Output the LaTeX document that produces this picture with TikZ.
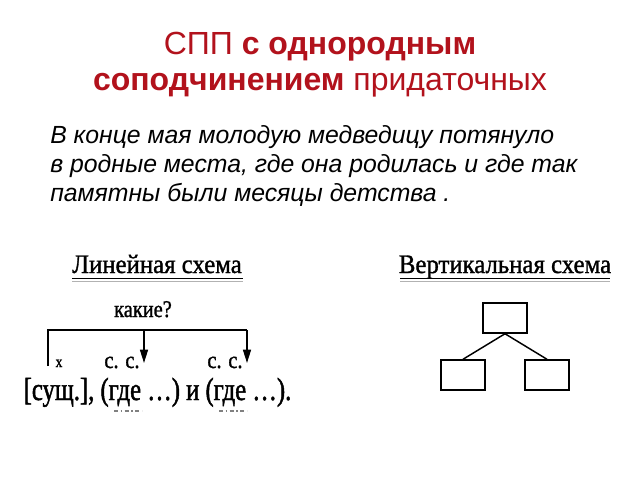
\documentclass[tikz,border=0pt]{standalone}
\usepackage{fontspec}
\setmainfont{Liberation Sans}
\newfontfamily\schemefont[FakeStretch=0.93, FakeBold=1.2]{Liberation Serif}
\newfontfamily\labelfont[FakeStretch=0.85, FakeBold=1.2]{Liberation Serif}
\newfontfamily\formulafont[FakeStretch=0.77, FakeBold=1.4]{Liberation Serif}
\usetikzlibrary{arrows.meta}

\definecolor{titlered}{RGB}{178,18,28}

\tikzset{
  schemetitle/.style={font=\schemefont\fontsize{20}{22}\selectfont, inner sep=0pt, anchor=base},
  schemetext/.style={font=\labelfont\fontsize{18}{20}\selectfont, inner sep=0pt, anchor=base},
  box/.style={draw, line width=1.1pt, minimum width=33pt, minimum height=22.5pt, inner sep=0pt},
  arr/.style={line width=1.1pt, -{Triangle[length=10pt,width=6pt]}}
}

\begin{document}
\begin{tikzpicture}[x=0.75pt,y=-0.75pt]

% Canvas
\fill[white] (0,0) rectangle (640,480);
\useasboundingbox (0,0) rectangle (640,480);

% Title
\foreach \n/\y/\txt in {1/54/{СПП \textbf{с однородным}},
                        2/90/{\textbf{соподчинением} придаточных}} {
  \node[anchor=base, inner sep=0pt, text=titlered, font=\fontsize{24}{26}\selectfont] (title\n) at (320,\y) {\txt};
}

% Example sentence
\foreach \y/\txt in {143/{В конце мая молодую медведицу потянуло},
                     172/{в родные места, где она родилась и где так},
                     201/{памятны были месяцы детства .}} {
  \node[anchor=base west, inner sep=0pt, font=\itshape\fontsize{18.6}{22}\selectfont] (line\y) at (50,\y) {\txt};
}

% Linear scheme
\node[schemetitle] (lintitle) at (157,273) {Линейная схема};
\draw[line width=1.2pt] (72,278.5) -- (243,278.5);
\draw[gray!60, line width=0.8pt] (72,281.5) -- (243,281.5);

\node[schemetext] (which) at (143,317) {какие?};

\coordinate (foot) at (48,366);
\coordinate (brL) at (48,330);
\coordinate (top1) at (144,330);
\coordinate (brR) at (247,330);
\coordinate (tip1) at (144,363);
\coordinate (tip2) at (247,363);

\draw[line width=1.1pt] (foot) -- (brL) -- (brR);
\draw[arr] (top1) -- (tip1);
\draw[arr] (brR) -- (tip2);

\node[schemetext, font=\labelfont\fontsize{12}{14}\selectfont] (mark) at (59,367) {x};
\node[schemetext] (cc1) at (122,368) {с. с.};
\node[schemetext] (cc2) at (225,368) {с. с.};

\node[anchor=base, inner sep=0pt, font=\formulafont\fontsize{24}{26}\selectfont] (sent) at (157.5,400)
  {[сущ.], (где \dots) и (где \dots).};

% marks under the conjunctions
\foreach \x in {114,219} {
  \draw[gray, line width=1pt, dash pattern=on 3pt off 2pt on 1pt off 2pt] (\x,411) -- (\x+28,411);
}

% Vertical scheme
\node[schemetitle] (verttitle) at (505,273) {Вертикальная схема};
\draw[line width=1.2pt] (400,278.5) -- (610,278.5);
\draw[gray!60, line width=0.8pt] (400,281.5) -- (610,281.5);

\node[box] (tb) at (505,318) {};
\node[box] (lb) at (463,375) {};
\node[box] (rb) at (547,375) {};

\draw[line width=1.1pt] (tb.south) -- (lb.north);
\draw[line width=1.1pt] (tb.south) -- (rb.north);

\end{tikzpicture}
\end{document}
